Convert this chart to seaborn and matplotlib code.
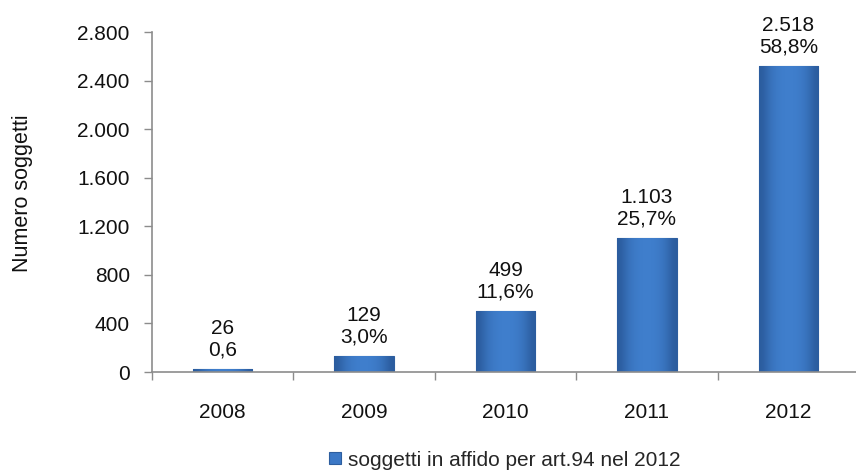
import matplotlib.pyplot as plt
import matplotlib.ticker as mticker
import numpy as np
import pandas as pd
import seaborn as sns

years = ["2008", "2009", "2010", "2011", "2012"]
counts = [26, 129, 499, 1103, 2518]
shares = ["0,6", "3,0%", "11,6%", "25,7%", "58,8%"]
y_ticks = [0, 400, 800, 1200, 1600, 2000, 2400, 2800]
series_name = "soggetti in affido per art.94 nel 2012"

df = pd.DataFrame({"anno": years, "soggetti": counts})

sns.set_theme(style="white")
plt.rcParams["font.family"] = ["Liberation Sans", "DejaVu Sans"]

fig = plt.figure(figsize=(8.56, 4.72), dpi=100)
ax = fig.add_axes([152 / 856, 1 - 372 / 472, 707 / 856, 340 / 472])

sns.barplot(data=df, x="anno", y="soggetti", color="#3B78C6", width=0.42,
            saturation=1, edgecolor="#2D5E9F", linewidth=0.8, ax=ax,
            label=series_name)

# soft bevel shading on each bar, clipped to the bar shape
shade = np.array([0.0, 0.55, 0.85, 1.0, 1.0, 1.0, 0.85, 0.55, 0.0]).reshape(1, -1)
cmap = sns.blend_palette(["#2B5C9E", "#3F7ECC"], as_cmap=True)
for patch in ax.patches:
    x0, y0 = patch.get_x(), patch.get_y()
    w, h = patch.get_width(), patch.get_height()
    im = ax.imshow(shade, cmap=cmap, aspect="auto", extent=(x0, x0 + w, y0, y0 + h),
                   interpolation="bicubic", zorder=patch.get_zorder() + 0.1)
    im.set_clip_path(patch)

for patch, n, s in zip(ax.patches, counts, shares):
    label = f"{n:,}".replace(",", ".") + "\n" + s
    ax.annotate(label, (patch.get_x() + patch.get_width() / 2, patch.get_height()),
                xytext=(0, 7), textcoords="offset points", ha="center", va="bottom",
                fontsize=15, linespacing=1.15, color="#111111")

ax.set_xlim(-0.5, 4.5)
ax.set_ylim(0, 2800)
ax.set_yticks(y_ticks)
ax.yaxis.set_major_formatter(mticker.FuncFormatter(lambda v, p: f"{int(v):,}".replace(",", ".")))
ax.set_xticks(np.arange(-0.5, 5, 1), minor=True)

for side in ["top", "right"]:
    ax.spines[side].set_visible(False)
for side in ["left", "bottom"]:
    ax.spines[side].set_color("#8C8C8C")
    ax.spines[side].set_linewidth(1.2)

ax.tick_params(axis="y", which="major", left=True, length=6, width=1, color="#8C8C8C",
               labelsize=15, pad=10, labelcolor="#111111")
ax.tick_params(axis="x", which="major", bottom=False, length=0, labelsize=15, pad=22,
               labelcolor="#111111")
ax.tick_params(axis="x", which="minor", bottom=True, length=6, width=1, color="#8C8C8C")

ax.set_xlabel("")
ax.set_ylabel("Numero soggetti", fontsize=15.5, color="#111111")
ax.yaxis.set_label_coords(-0.168, 0.526)

handles, labels = ax.get_legend_handles_labels()
fig.legend(handles[:1], labels[:1], loc="center", bbox_to_anchor=(505 / 856, 1 - 460 / 472),
           frameon=False, fontsize=15, handlelength=0.55, handleheight=0.55,
           handletextpad=0.35, borderaxespad=0)
if ax.get_legend() is not None:
    ax.get_legend().remove()

fig.savefig("out.png", dpi=100)
